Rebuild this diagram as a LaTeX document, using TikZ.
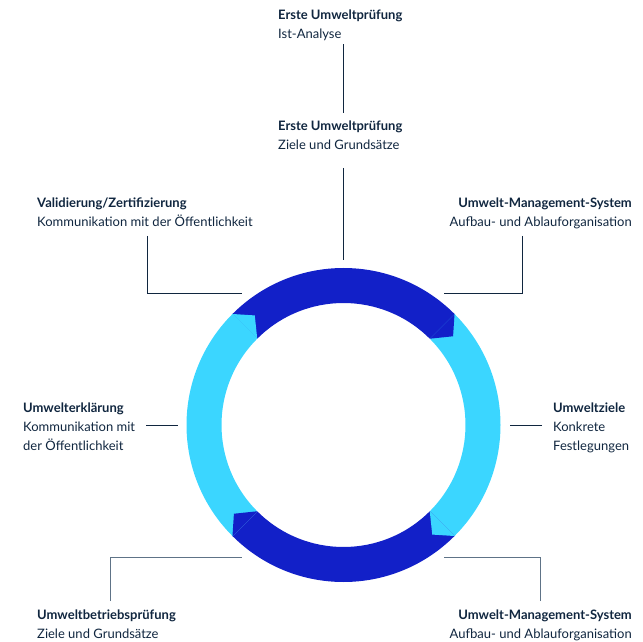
\documentclass[tikz,border=0pt]{standalone}
\usepackage{fontspec}
\setmainfont{Lato}
\usetikzlibrary{positioning}

\definecolor{ringdark}{HTML}{1220C8}
\definecolor{ringlight}{HTML}{3BD6FF}
\definecolor{labelnavy}{HTML}{10263F}
\definecolor{leadergray}{HTML}{5E7387}

\tikzset{
    steplabel/.style={inner sep=0pt, text=labelnavy, font=\fontsize{13}{18.8}\selectfont},
    leader/.style={draw=labelnavy, line width=0.8pt},
    leaderlow/.style={draw=leadergray, line width=0.8pt},
}

\newcommand{\ringpiece}[2]{
    % Quarter of the ring, clockwise from #1
    \fill[#2] (#1:157pt) arc[start angle=#1, end angle=#1-90, radius=157pt]
        -- ({#1-90}:122pt) arc[start angle=#1-90, end angle=#1, radius=122pt] -- cycle;
}
\newcommand{\ringtip}[2]{
    % Arrow tip at the end of a quarter
    \fill[#2] ({#1-90}:157pt) -- ({#1-96}:141pt) -- ({#1-90}:122pt) -- cycle;
}

\begin{document}
\begin{tikzpicture}[x=1pt, y=1pt]
    \useasboundingbox (0,0) rectangle (643,641);

    % Ring of four quarters
    \begin{scope}[shift={(343.5,216)}]
        \foreach \a/\c in {135/ringdark, 45/ringlight, -45/ringdark, -135/ringlight}
            \ringpiece{\a}{\c};
        \foreach \a/\c in {135/ringdark, 45/ringlight, -45/ringdark, -135/ringlight}
            \ringtip{\a}{\c};
        % Ends of the leaders at the ring
        \coordinate (ring-n) at (0,165);
        \coordinate (ring-nw) at (-101.5,132);
        \coordinate (ring-ne) at (100.5,132);
        \coordinate (ring-w) at (-166,0);
        \coordinate (ring-e) at (166.5,0);
        \coordinate (ring-sw) at (-101.5,-132);
        \coordinate (ring-se) at (100.5,-132);
    \end{scope}

    % Labels
    \node[steplabel, anchor=north west, align=left] (pruef-ist) at (278,631)
        {\textbf{Erste Umweltprüfung}\\Ist-Analyse};
    \node[steplabel, anchor=north west, align=left] (pruef-ziele) at (278,520)
        {\textbf{Erste Umweltprüfung}\\Ziele und Grundsätze};
    \node[steplabel, anchor=north west, align=left] (valid) at (37,443)
        {\textbf{Validierung/Zertifizierung}\\Kommunikation mit der Öffentlichkeit};
    \node[steplabel, anchor=north east, align=right] (ums-top) at (632,443)
        {\textbf{Umwelt-Management-System}\\Aufbau- und Ablauforganisation};
    \node[steplabel, anchor=north west, align=left] (erkl) at (23,238)
        {\textbf{Umwelterklärung}\\Kommunikation mit\\der Öffentlichkeit};
    \node[steplabel, anchor=north west, align=left] (ziele) at (553,238)
        {\textbf{Umweltziele}\\Konkrete\\Festlegungen};
    \node[steplabel, anchor=north west, align=left] (betrieb) at (37,31)
        {\textbf{Umweltbetriebsprüfung}\\Ziele und Grundsätze};
    \node[steplabel, anchor=north east, align=right] (ums-low) at (632,31)
        {\textbf{Umwelt-Management-System}\\Aufbau- und Ablauforganisation};

    % Leaders
    \coordinate (valid-drop) at (147,405);
    \coordinate (ums-top-drop) at (522,405);
    \coordinate (betrieb-rise) at (110,40);
    \coordinate (ums-low-rise) at (540,40);
    \draw[leader, shorten <=3pt, shorten >=8pt] (pruef-ist.south -| ring-n) -- (pruef-ziele.north -| ring-n);
    \draw[leader, shorten <=18pt] (pruef-ziele.south -| ring-n) -- (ring-n);
    \draw[leader] (valid-drop) |- (ring-nw);
    \draw[leader] (ums-top-drop) |- (ring-ne);
    \draw[leader, shorten <=11pt] (erkl.east |- ring-w) -- (ring-w);
    \draw[leader, shorten <=11pt] (ziele.west |- ring-e) -- (ring-e);
    \draw[leaderlow] (betrieb-rise) |- (ring-sw);
    \draw[leaderlow] (ums-low-rise) |- (ring-se);
\end{tikzpicture}
\end{document}
